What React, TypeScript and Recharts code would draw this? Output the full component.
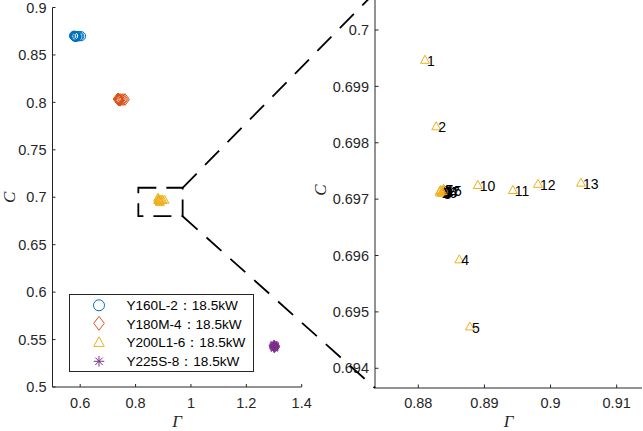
import React from "react";
import {
  ScatterChart,
  Scatter,
  XAxis,
  YAxis,
  ReferenceArea,
  ReferenceLine,
  Legend,
} from "recharts";

// point numbers (same order for every motor)
const pointIds = [1, 2, 3, 4, 5, 6, 7, 8, 9, 10, 11, 12, 13, 14, 15, 16, 17];

// Y160L-2
const gammaY160 = [0.578, 0.5795, 0.581, 0.5835, 0.585, 0.5812, 0.5815, 0.5816, 0.5818, 0.587, 0.5925, 0.5965, 0.603, 0.5814, 0.5819, 0.5811, 0.582];
const cY160 = [0.8703, 0.87, 0.8697, 0.8694, 0.8691, 0.8697, 0.8698, 0.8696, 0.8697, 0.8697, 0.8697, 0.8698, 0.8698, 0.8697, 0.8697, 0.8696, 0.8697];

// Y180M-4
const gammaY180 = [0.7352, 0.7368, 0.7385, 0.742, 0.744, 0.7386, 0.7388, 0.7389, 0.739, 0.746, 0.752, 0.7565, 0.762, 0.7387, 0.7391, 0.7384, 0.7392];
const cY180 = [0.8036, 0.8033, 0.8029, 0.8025, 0.8021, 0.8029, 0.803, 0.8028, 0.8029, 0.803, 0.8029, 0.803, 0.803, 0.8029, 0.8029, 0.8028, 0.8029];

// Y200L1-6 (also shown in the zoomed panel)
const gammaY200 = [0.881, 0.8827, 0.8834, 0.8862, 0.8878, 0.8836, 0.8838, 0.8835, 0.8837, 0.889, 0.8943, 0.8981, 0.9046, 0.8833, 0.8839, 0.8832, 0.8836];
const cY200 = [0.69947, 0.69829, 0.69716, 0.69593, 0.69474, 0.69713, 0.69718, 0.69711, 0.69714, 0.69725, 0.69716, 0.69727, 0.69729, 0.69715, 0.69717, 0.69712, 0.69714];

// Y225S-8
const gammaY225 = [1.2965, 1.298, 1.2995, 1.303, 1.305, 1.299, 1.3, 1.301, 1.302, 1.304, 1.3065, 1.3005, 1.2975, 1.3015, 1.2985, 1.3025, 1.3045];
const cY225 = [0.544, 0.5425, 0.541, 0.5435, 0.5418, 0.545, 0.5428, 0.5405, 0.5442, 0.5422, 0.543, 0.5415, 0.5432, 0.5447, 0.542, 0.5412, 0.5438];

const seriesNames = ["Y160L-2：18.5kW", "Y180M-4：18.5kW", "Y200L1-6：18.5kW", "Y225S-8：18.5kW"];

// axis ticks
const leftXTicks = [0.6, 0.8, 1, 1.2, 1.4];
const leftYTicks = [0.5, 0.55, 0.6, 0.65, 0.7, 0.75, 0.8, 0.85, 0.9];
const zoomXTicks = [0.88, 0.89, 0.9, 0.91];
const zoomYTicks = [0.694, 0.695, 0.696, 0.697, 0.698, 0.699, 0.7];

// zoom box on the left axes, and the inset corners expressed in left-axis units
const zoomBox = { x1: 0.81, x2: 0.97, y1: 0.68, y2: 0.71 };
const insetTopLeft = { x: 1.6647, y: 0.9158 };
const insetBottomLeft = { x: 1.6647, y: 0.4989 };

const toRows = (g: number[], c: number[]) =>
  pointIds.map((id, i) => ({ id, g: g[i], c: c[i] }));

const dY160 = toRows(gammaY160, cY160);
const dY180 = toRows(gammaY180, cY180);
const dY200 = toRows(gammaY200, cY200);
const dY225 = toRows(gammaY225, cY225);

const BLUE = "#0072BD";
const ORANGE = "#D95319";
const YELLOW = "#EDB120";
const PURPLE = "#7E2F8E";
const AX = "#262626";
const SANS = '"Liberation Sans", Arial, sans-serif';
const SERIF = '"Liberation Serif", "Times New Roman", serif';

type Kind = "circle" | "diamond" | "triangle" | "star";

function Marker({ kind, cx, cy, color, k = 1 }: { kind: Kind; cx: number; cy: number; color: string; k?: number }) {
  const s = { fill: "none", stroke: color, strokeWidth: 1 };
  if (kind === "circle") return <circle cx={cx} cy={cy} r={4.6 * k} {...s} />;
  if (kind === "diamond") {
    const w = 4.4 * k, h = 5.8 * k;
    return <polygon points={`${cx},${cy - h} ${cx + w},${cy} ${cx},${cy + h} ${cx - w},${cy}`} {...s} />;
  }
  if (kind === "triangle") {
    const w = 4.4 * k;
    return <polygon points={`${cx},${cy - 4.6 * k} ${cx + w},${cy + 3.4 * k} ${cx - w},${cy + 3.4 * k}`} {...s} />;
  }
  const r = 4.4 * k, d = r * 0.707;
  return (
    <g {...s}>
      <line x1={cx - r} y1={cy} x2={cx + r} y2={cy} />
      <line x1={cx} y1={cy - r} x2={cx} y2={cy + r} />
      <line x1={cx - d} y1={cy - d} x2={cx + d} y2={cy + d} />
      <line x1={cx - d} y1={cy + d} x2={cx + d} y2={cy - d} />
    </g>
  );
}

const tickStyle = { fill: AX, fontSize: 14.5, fontFamily: SANS };

const yTitle = (dx: number) => (props: any) => {
  const vb = props.viewBox;
  const x = vb.x + dx;
  const y = vb.y + vb.height / 2;
  return (
    <text x={x} y={y} transform={`rotate(-90 ${x} ${y})`} textAnchor="middle" dominantBaseline="central"
      fontFamily={SERIF} fontStyle="italic" fontSize={17} fill={AX}>C</text>
  );
};

const xTitle = (dy: number) => (props: any) => {
  const vb = props.viewBox;
  return (
    <text x={vb.x + vb.width / 2} y={vb.y + dy} textAnchor="middle" dominantBaseline="central"
      fontFamily={SERIF} fontStyle="italic" fontSize={17} fill={AX}>Γ</text>
  );
};

const legendKind: Record<string, Kind> = { circle: "circle", diamond: "diamond", triangle: "triangle", star: "star" };

const renderLegend = (props: any) => (
  <div style={{ position: "relative", width: 185, height: 78, boxSizing: "border-box", border: `1px solid ${AX}`, background: "#fff", fontFamily: SANS, fontSize: 13.6, color: "#000" }}>
    {(props.payload || []).map((item: any, i: number) => (
      <div key={item.value} style={{ position: "absolute", left: 0, top: 0.7 + i * 18.7, height: 18.7, width: "100%" }}>
        <svg width={16} height={18} style={{ position: "absolute", left: 21, top: 0 }}>
          <Marker kind={legendKind[item.type] || "circle"} cx={8} cy={9.3} color={item.color} k={1.2} />
        </svg>
        <span style={{ position: "absolute", left: 56.4, top: 1.2, whiteSpace: "nowrap" }}>{item.value}</span>
      </div>
    ))}
  </div>
);

export default function App() {
  return (
    <div style={{ position: "absolute", left: 0, top: 0, width: 643, height: 431, background: "#fff", overflow: "hidden" }}>
      {/* zoomed panel */}
      <div style={{ position: "absolute", left: 0, top: -8 }}>
        <ScatterChart width={643} height={439} margin={{ top: 0, right: 1, bottom: 0, left: 315 }}>
          <XAxis type="number" dataKey="g" domain={[0.87345, 0.91383]} ticks={zoomXTicks} allowDataOverflow interval={0}
            height={43} stroke={AX} tickSize={-3.5} tickMargin={13.5} tick={tickStyle} label={{ content: xTitle(33.7) }} />
          <XAxis xAxisId="t" orientation="top" type="number" domain={[0.87345, 0.91383]} ticks={zoomXTicks} allowDataOverflow
            height={0} stroke={AX} tickSize={-3.5} tick={false} />
          <YAxis type="number" dataKey="c" domain={[0.69365, 0.700674]} ticks={zoomYTicks} allowDataOverflow interval={0}
            width={60} stroke={AX} tickSize={-3.5} tickMargin={9.5} tick={tickStyle} label={{ content: yTitle(5) }} />
          <YAxis yAxisId="r" orientation="right" type="number" domain={[0.69365, 0.700674]} ticks={zoomYTicks} allowDataOverflow
            width={0} stroke={AX} tickSize={-3.5} tick={false} />
          <Scatter data={dY200} isAnimationActive={false}
            shape={(p: any) => (
              <g>
                <Marker kind="triangle" cx={p.cx} cy={p.cy} color={YELLOW} />
                <text x={p.cx + 2} y={p.cy + 1} dominantBaseline="central" fontFamily={SANS} fontSize={14} fill="#000">
                  {p.payload.id}
                </text>
              </g>
            )} />
        </ScatterChart>
      </div>

      {/* overview panel, drawn on top so the zoom connectors cross the inset axis */}
      <div style={{ position: "absolute", left: 0, top: 0 }}>
        <ScatterChart width={643} height={431} margin={{ top: 7.5, right: 341.3, bottom: 0, left: 0 }}>
          <XAxis type="number" dataKey="g" domain={[0.5, 1.4]} ticks={leftXTicks} allowDataOverflow interval={0}
            height={44} stroke={AX} tickSize={-3} tickMargin={14} tick={tickStyle} label={{ content: xTitle(34.7) }} />
          <XAxis xAxisId="t" orientation="top" type="number" domain={[0.5, 1.4]} ticks={leftXTicks} allowDataOverflow
            height={0} stroke={AX} tickSize={-3} tick={false} />
          <YAxis type="number" dataKey="c" domain={[0.5, 0.9]} ticks={leftYTicks} allowDataOverflow interval={0}
            width={52.5} stroke={AX} tickSize={-3} tickMargin={9} tick={tickStyle} label={{ content: yTitle(9) }} />
          <YAxis yAxisId="r" orientation="right" type="number" domain={[0.5, 0.9]} ticks={leftYTicks} allowDataOverflow
            width={0} stroke={AX} tickSize={-3} tick={false} />
          <Scatter name={seriesNames[0]} data={dY160} fill={BLUE} legendType="circle" isAnimationActive={false}
            shape={(p: any) => <Marker kind="circle" cx={p.cx} cy={p.cy} color={BLUE} />} />
          <Scatter name={seriesNames[1]} data={dY180} fill={ORANGE} legendType="diamond" isAnimationActive={false}
            shape={(p: any) => <Marker kind="diamond" cx={p.cx} cy={p.cy} color={ORANGE} />} />
          <Scatter name={seriesNames[2]} data={dY200} fill={YELLOW} legendType="triangle" isAnimationActive={false}
            shape={(p: any) => <Marker kind="triangle" cx={p.cx} cy={p.cy} color={YELLOW} />} />
          <Scatter name={seriesNames[3]} data={dY225} fill={PURPLE} legendType="star" isAnimationActive={false}
            shape={(p: any) => <Marker kind="star" cx={p.cx} cy={p.cy} color={PURPLE} />} />
          <ReferenceArea x1={zoomBox.x1} x2={zoomBox.x2} y1={zoomBox.y1} y2={zoomBox.y2} ifOverflow="visible"
            fill="none" fillOpacity={0} stroke="#000" strokeWidth={1.8} strokeDasharray="18 10" />
          <ReferenceLine segment={[{ x: zoomBox.x2, y: zoomBox.y2 }, insetTopLeft]} ifOverflow="visible"
            stroke="#000" strokeWidth={1.8} strokeDasharray="20 12" />
          <ReferenceLine segment={[{ x: zoomBox.x2, y: zoomBox.y1 }, insetBottomLeft]} ifOverflow="visible"
            stroke="#000" strokeWidth={1.8} strokeDasharray="20 12" />
          <Legend layout="vertical" verticalAlign="middle" align="center" content={renderLegend}
            wrapperStyle={{ left: 69, top: 294, width: 185, height: 78 }} />
        </ScatterChart>
      </div>
    </div>
  );
}
